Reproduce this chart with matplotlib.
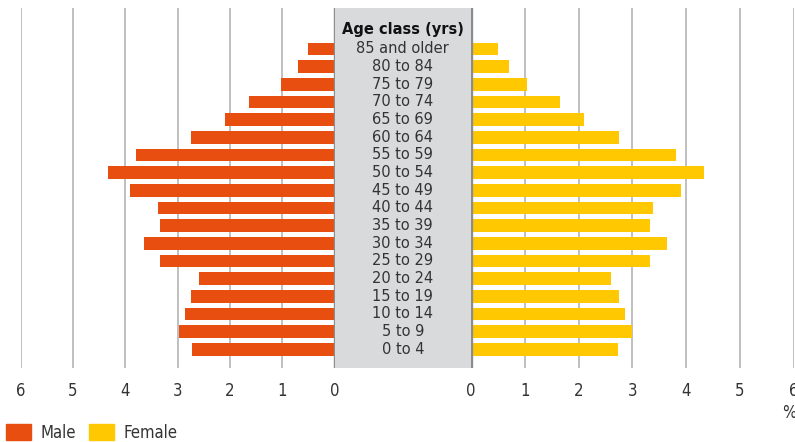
import matplotlib.pyplot as plt
import matplotlib.patches as mpatches
from matplotlib import font_manager

# age classes from youngest to oldest (bottom to top)
age_classes = ['0 to 4', '5 to 9', '10 to 14', '15 to 19', '20 to 24', '25 to 29',
               '30 to 34', '35 to 39', '40 to 44', '45 to 49', '50 to 54', '55 to 59',
               '60 to 64', '65 to 69', '70 to 74', '75 to 79', '80 to 84', '85 and older']
male = [2.72, 2.97, 2.86, 2.74, 2.59, 3.34, 3.64, 3.34, 3.37, 3.91, 4.33, 3.80,
        2.74, 2.09, 1.63, 1.02, 0.70, 0.51]
female = [2.73, 2.99, 2.86, 2.75, 2.60, 3.33, 3.64, 3.33, 3.38, 3.90, 4.33, 3.81,
          2.75, 2.10, 1.65, 1.04, 0.71, 0.50]
ticks = [0, 1, 2, 3, 4, 5, 6]

male_color = '#e84e0f'
female_color = '#ffc800'
grid_color = '#b4b4b4'
zero_color = '#8c8c8c'
text_color = '#333333'

# condensed font for ticks and legend
narrow = font_manager.FontProperties(family='DejaVu Sans', stretch='condensed', size=12)

W, H = 795, 442
fig = plt.figure(figsize=(W / 100, H / 100), dpi=100)


def px_axes(x0, x1, top, bottom):
    return fig.add_axes([x0 / W, 1 - bottom / H, (x1 - x0) / W, (bottom - top) / H])


ylim = (-1.06, len(age_classes) - 1 + 2.32)
pos = list(range(len(age_classes)))
bar_h = 0.72

ax_l = px_axes(20.7, 334.5, 8, 368)
ax_c = px_axes(334.5, 471, 8, 368)
ax_r = px_axes(471, 793.7, 8, 368)

ax_l.barh(pos, male, height=bar_h, color=male_color, zorder=2)
ax_l.set_xlim(6, 0)
ax_r.barh(pos, female, height=bar_h, color=female_color, zorder=2)
ax_r.set_xlim(0, 6)

for ax in (ax_l, ax_r):
    ax.set_ylim(*ylim)
    ax.set_xticks(ticks)
    ax.set_xticklabels([str(t) for t in ticks], fontproperties=narrow, color=text_color)
    ax.tick_params(axis='x', length=0, pad=10)
    ax.set_yticks([])
    ax.grid(axis='x', color=grid_color, lw=1.2, zorder=0)
    for s in ax.spines.values():
        s.set_visible(False)
    ax.axvline(0, color=zero_color, lw=2.4, zorder=3)

ax_c.set_facecolor('#d9dadb')
ax_c.set_xlim(0, 1)
ax_c.set_ylim(*ylim)
ax_c.set_xticks([])
ax_c.set_yticks([])
for s in ax_c.spines.values():
    s.set_visible(False)
for p, lab in zip(pos, age_classes):
    ax_c.text(0.5, p, lab, ha='center', va='center', fontsize=10.5, color=text_color)
ax_c.text(0.5, len(age_classes) - 1 + 1.13, 'Age class (yrs)', ha='center', va='center',
          fontsize=10.5, fontweight='bold', color='#111111')

fig.text(796 / W, 1 - 413 / H, '%', ha='right', va='center', fontproperties=narrow,
         color=text_color)

handles = [mpatches.Patch(color=male_color, label='Male'),
           mpatches.Patch(color=female_color, label='Female')]
leg = fig.legend(handles=handles, loc='lower left', bbox_to_anchor=(6 / W, 0.0), ncol=2,
                 frameon=False, handlelength=1.5, handleheight=1.1, handletextpad=0.55,
                 columnspacing=0.8, borderpad=0, borderaxespad=0, prop=narrow)
for t in leg.get_texts():
    t.set_color(text_color)

fig.savefig('out.png', dpi=100)
